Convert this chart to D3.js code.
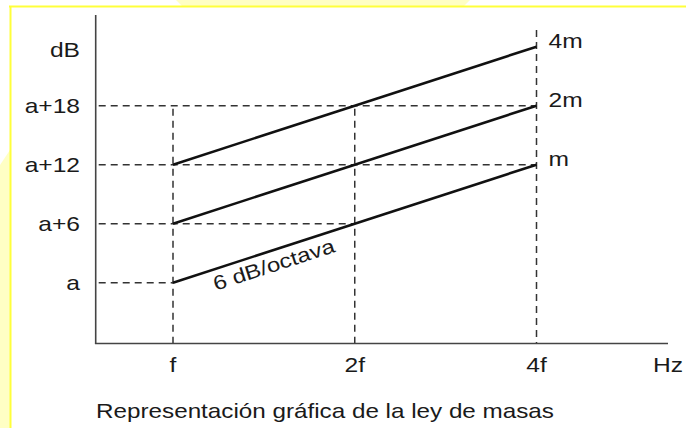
<!DOCTYPE html>
<html>
<head>
<meta charset="utf-8">
<script src="https://cdn.jsdelivr.net/npm/d3@7/dist/d3.min.js"></script>
<style>
html,body{margin:0;padding:0;background:#fff;}
svg{display:block;}
text{font-family:"Liberation Sans", Arial, sans-serif;fill:#1a1a1a;}
</style>
</head>
<body>
<svg id="chart" width="686" height="428"></svg>
<script>
// ---- data ----
const xLabels = ["f", "2f", "4f"];          // octave steps
const yLevels = [0, 6, 12, 18];              // dB above a
const yLabels = ["a", "a+6", "a+12", "a+18"];
const seriesNames = ["m", "2m", "4m"];
const seriesM  = [0, 6, 12];
const series2M = [6, 12, 18];
const series4M = [12, 18, 24];
const verticalGuideTop = [18, 18, 26];
const slopeLabel = "6 dB/octava";
const title = "Representación gráfica de la ley de masas";

const svg = d3.select("#chart");

// ---- frame decoration ----
svg.append("path").attr("d", "M176,0 L470,0 L464,6 L182,6 Z").attr("fill", "#ffffc4");
svg.append("path").attr("d", "M0,165 L10,150 L10,428 L0,428 Z").attr("fill", "#ffffc4");
svg.append("line").attr("x1", 9).attr("x2", 686).attr("y1", 6.5).attr("y2", 6.5)
  .attr("stroke", "#ffff3a").attr("stroke-width", 2);
svg.append("line").attr("x1", 10.5).attr("x2", 10.5).attr("y1", 6).attr("y2", 428)
  .attr("stroke", "#ffff3a").attr("stroke-width", 2);

// ---- scales ----
const x = d3.scaleLinear().domain([0, 2]).range([173, 536.5]);
const y = d3.scaleLinear().domain([0, 24]).range([282.7, 46.7]);
const axisX0 = 95.7, axisY0 = 343.5;

const allSeries = [seriesM, series2M, series4M];
const guideColor = "#333";
const dash = "7,5";

// horizontal guides
yLevels.forEach(v => {
  let maxI = 0;
  allSeries.forEach(s => s.forEach((val, i) => { if (val === v && i > maxI) maxI = i; }));
  svg.append("line")
    .attr("x1", axisX0).attr("x2", x(maxI))
    .attr("y1", y(v)).attr("y2", y(v))
    .attr("stroke", guideColor).attr("stroke-width", 1.5)
    .attr("stroke-dasharray", dash).attr("stroke-dashoffset", -3);
});

// vertical guides
xLabels.forEach((lab, i) => {
  svg.append("line")
    .attr("x1", x(i)).attr("x2", x(i))
    .attr("y1", y(verticalGuideTop[i])).attr("y2", axisY0)
    .attr("stroke", guideColor).attr("stroke-width", 1.5)
    .attr("stroke-dasharray", dash).attr("stroke-dashoffset", -3);
});

// axes
svg.append("line").attr("x1", axisX0).attr("x2", axisX0).attr("y1", 15).attr("y2", axisY0)
  .attr("stroke", "#444").attr("stroke-width", 1.6);
svg.append("line").attr("x1", axisX0 - 0.8).attr("x2", 668).attr("y1", axisY0).attr("y2", axisY0)
  .attr("stroke", "#444").attr("stroke-width", 1.6);

// series lines
const line = d3.line().x((d, i) => x(i)).y(d => y(d));
allSeries.forEach(s => {
  svg.append("path").attr("d", line(s))
    .attr("fill", "none").attr("stroke", "#111").attr("stroke-width", 2.6);
});

// text helper: horizontally stretched text
const SX = 1.2;
function txt(str, px, py, size, anchor) {
  return svg.append("text")
    .attr("transform", `translate(${px},${py}) scale(${SX},1)`)
    .attr("font-size", size)
    .attr("text-anchor", anchor || "start")
    .text(str);
}

// y labels
yLevels.forEach((v, i) => txt(yLabels[i], 80, y(v) + 7, 20.5, "end"));
txt("dB", 80, y(24) + 10, 20.5, "end");

// x labels
xLabels.forEach((lab, i) => txt(lab, x(i), 372, 20.5, "middle"));
txt("Hz", 668, 372, 20.5, "middle");

// series labels
allSeries.forEach((s, i) => {
  txt(seriesNames[i], x(2) + 12, y(s[2]) + 1, 20.5, "start");
});

// slope label
const ang = Math.atan2(y(seriesM[1]) - y(seriesM[0]), x(1) - x(0)) * 180 / Math.PI;
svg.append("text")
  .attr("transform", `translate(${(x(0) + x(1)) / 2 + 12},${(y(seriesM[0]) + y(seriesM[1])) / 2 + 18}) rotate(${ang}) scale(${SX},1)`)
  .attr("font-size", 20)
  .attr("text-anchor", "middle")
  .text(slopeLabel);

// title
txt(title, 325, 418, 20.2, "middle");
</script>
</body>
</html>
